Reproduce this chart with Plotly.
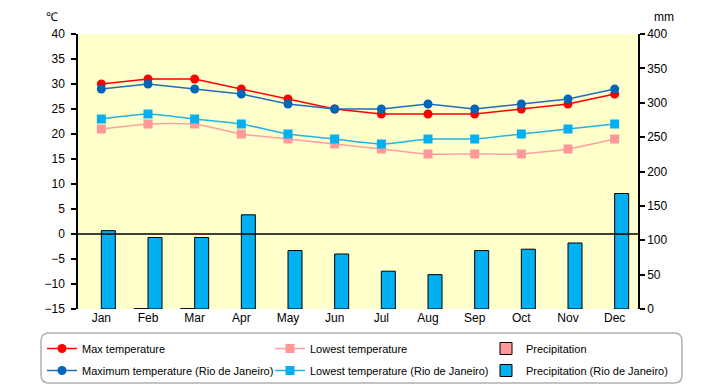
import plotly.graph_objects as go

months = ["Jan", "Feb", "Mar", "Apr", "May", "Jun", "Jul", "Aug", "Sep", "Oct", "Nov", "Dec"]
max_temp = [30, 31, 31, 29, 27, 25, 24, 24, 24, 25, 26, 28]
low_temp = [21, 22, 22, 20, 19, 18, 17, 16, 16, 16, 17, 19]
precip = [0, 0.5, 0.5, 0, 0, 0, 0, 0, 0, 0, 0, 0]
max_rio = [29, 30, 29, 28, 26, 25, 25, 26, 25, 26, 27, 29]
low_rio = [23, 24, 23, 22, 20, 19, 18, 19, 19, 20, 21, 22]
precip_rio = [114, 104, 104, 137, 85, 80, 55, 50, 85, 87, 96, 168]

FONT = "Liberation Sans"
L, R, T, B = 78, 82, 34, 76
W, H = 720, 385
PW, PH = W - L - R, H - T - B


def px(x):
    return (x - L) / PW


def py(y):
    return (H - B - y) / PH


def cx(x):
    return x / W


def cy(y):
    return 1 - y / H


fig = go.Figure()

# zero-precipitation months draw no bar at all (as in the reference)
fig.add_trace(go.Bar(x=months, y=[v if v > 0 else None for v in precip], name="Precipitation", yaxis="y2",
                     marker=dict(color="#ff9999", line=dict(color="black", width=1)),
                     legend="legend3", legendgroup="p1", legendrank=1))
fig.add_trace(go.Bar(x=months, y=precip_rio, name="Precipitation (Rio de Janeiro)", yaxis="y2",
                     marker=dict(color="#00b0f0", line=dict(color="black", width=1)),
                     legend="legend3", legendgroup="p2", legendrank=2))

fig.add_trace(go.Scatter(x=months, y=low_temp, name="Lowest temperature", mode="lines+markers",
                         line=dict(color="#ffa0a0", width=1.5, shape="spline", smoothing=0.5),
                         marker=dict(symbol="square", size=9, color="#ff9999"),
                         legend="legend2", legendgroup="l1", legendrank=1))
fig.add_trace(go.Scatter(x=months, y=low_rio, name="Lowest temperature (Rio de Janeiro)", mode="lines+markers",
                         line=dict(color="#22b4e8", width=1.5, shape="spline", smoothing=0.5),
                         marker=dict(symbol="square", size=9, color="#00b0f0"),
                         legend="legend2", legendgroup="l2", legendrank=2))
fig.add_trace(go.Scatter(x=months, y=max_temp, name="Max temperature", mode="lines+markers",
                         line=dict(color="#ff0000", width=1.5),
                         marker=dict(symbol="circle", size=9, color="#ff0000"),
                         legend="legend", legendgroup="m1", legendrank=1))
fig.add_trace(go.Scatter(x=months, y=max_rio, name="Maximum temperature (Rio de Janeiro)", mode="lines+markers",
                         line=dict(color="#1f6fb8", width=1.5),
                         marker=dict(symbol="circle", size=9, color="#0066bb"),
                         legend="legend", legendgroup="m2", legendrank=2))

leg_common = dict(orientation="v", xanchor="left", yanchor="top", bgcolor="rgba(0,0,0,0)",
                  xref="container", yref="container",
                  borderwidth=0, font=dict(family=FONT, size=11, color="black"),
                  tracegroupgap=3, itemwidth=30, traceorder="grouped")

fig.update_layout(
    width=W, height=H,
    margin=dict(l=L, r=R, t=T, b=B, pad=0, autoexpand=False),
    paper_bgcolor="white",
    plot_bgcolor="#ffffcc",
    font=dict(family=FONT, size=12, color="black"),
    barmode="group", bargap=0.4, bargroupgap=0,
    showlegend=True,
    xaxis=dict(type="category", range=[-0.5, 11.5], showgrid=False, showline=False, ticks="",
               zeroline=False, tickfont=dict(size=12)),
    yaxis=dict(range=[-15, 40], dtick=5, showgrid=False, zeroline=False, showline=True,
               linecolor="black", linewidth=1.5, ticks="outside", ticklen=5, tickcolor="black",
               tickwidth=1.5, ticklabelstandoff=4),
    yaxis2=dict(range=[0, 400], dtick=50, overlaying="y", side="right", showgrid=False,
                zeroline=False, showline=True, linecolor="black", linewidth=1.5,
                ticks="outside", ticklen=5, tickcolor="black", tickwidth=1.5),
    legend=dict(x=cx(42), y=cy(334), **leg_common),
    legend2=dict(x=cx(270), y=cy(334), **leg_common),
    legend3=dict(x=cx(486), y=cy(334), **leg_common),
    shapes=[
        dict(type="line", xref="paper", yref="y", x0=0, x1=1, y0=0, y1=0,
             line=dict(color="black", width=1.5), layer="above"),
        dict(type="path", xref="paper", yref="paper", layer="below",
             path=(f"M {px(49)} {py(333)} L {px(674)} {py(333)} Q {px(682)} {py(333)} {px(682)} {py(341)} "
                   f"L {px(682)} {py(375)} Q {px(682)} {py(383)} {px(674)} {py(383)} "
                   f"L {px(49)} {py(383)} Q {px(41)} {py(383)} {px(41)} {py(375)} "
                   f"L {px(41)} {py(341)} Q {px(41)} {py(333)} {px(49)} {py(333)} Z"),
             line=dict(color="#b0b0b0", width=1.5)),
    ],
    annotations=[
        dict(text="℃", xref="paper", yref="paper", x=px(52), y=py(17), showarrow=False,
             xanchor="center", yanchor="middle", font=dict(size=12)),
        dict(text="mm", xref="paper", yref="paper", x=px(664), y=py(17), showarrow=False,
             xanchor="center", yanchor="middle", font=dict(size=12)),
    ],
)

fig.write_html("out.html", config={"displayModeBar": False},
               post_script="document.body.style.margin='0';")
